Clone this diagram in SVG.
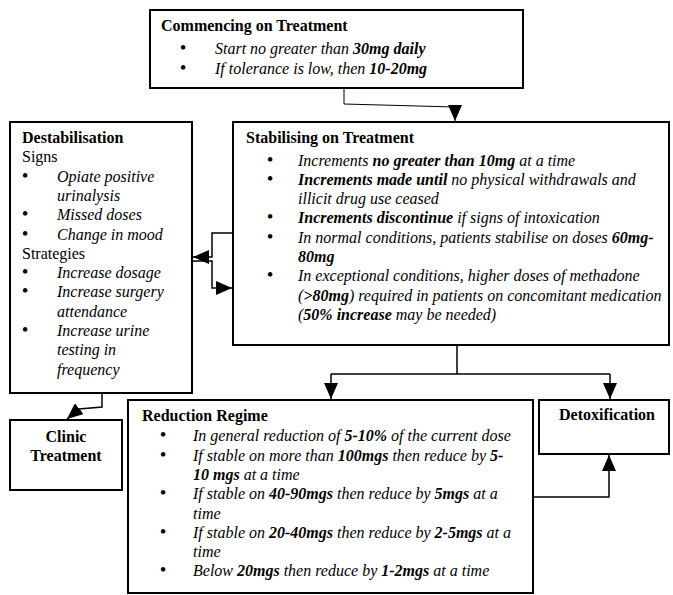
<svg xmlns="http://www.w3.org/2000/svg" width="673" height="595" viewBox="0 0 673 595">
<style>
.box{fill:#fff;stroke:#000;stroke-width:2}
text{font-family:"Liberation Serif","Times New Roman",serif;font-size:16px;fill:#000}
.b{font-weight:bold}
.i{font-style:italic}
.bi{font-weight:bold;font-style:italic}
.dot{text-anchor:middle;font-size:19px}
.c{text-anchor:middle;font-weight:bold}
.conn{fill:none;stroke:#000;stroke-width:1.5}
.thin{stroke-width:1}
</style>
<defs>
<marker id="arr" viewBox="0 0 16 14" refX="16" refY="7" markerWidth="16" markerHeight="14" markerUnits="userSpaceOnUse" orient="auto">
<path d="M0,0 L16,7 L0,14 z" fill="#000"/>
</marker>
</defs>
<rect width="673" height="595" fill="#fff"/>

<g id="commencing">
<rect class="box" x="150" y="10" width="373" height="78"/>
<text class="b" x="161" y="31">Commencing on Treatment</text>
<text class="dot" x="183" y="54">•</text>
<text x="215" y="54"><tspan class="i">Start no greater than </tspan><tspan class="bi">30mg daily</tspan></text>
<text class="dot" x="183" y="73.5">•</text>
<text x="215" y="73.5"><tspan class="i">If tolerance is low, then </tspan><tspan class="bi">10-20mg</tspan></text>
</g>

<g id="stabilising">
<rect class="box" x="233" y="122" width="436" height="223"/>
<text class="b" x="246" y="143">Stabilising on Treatment</text>
<text class="dot" x="270" y="165.5">•</text>
<text x="298" y="165.5"><tspan class="i">Increments </tspan><tspan class="bi">no greater than 10mg</tspan><tspan class="i"> at a time</tspan></text>
<text class="dot" x="270" y="184.8">•</text>
<text x="298" y="184.8"><tspan class="bi">Increments made until</tspan><tspan class="i"> no physical withdrawals and</tspan></text>
<text class="i" x="298" y="204.1">illicit drug use ceased</text>
<text class="dot" x="270" y="223.4">•</text>
<text x="298" y="223.4"><tspan class="bi">Increments discontinue</tspan><tspan class="i"> if signs of intoxication</tspan></text>
<text class="dot" x="270" y="242.7">•</text>
<text x="298" y="242.7"><tspan class="i">In normal conditions, patients stabilise on doses </tspan><tspan class="bi">60mg-</tspan></text>
<text class="bi" x="298" y="262">80mg</text>
<text class="dot" x="270" y="281.3">•</text>
<text class="i" x="298" y="281.3">In exceptional conditions, higher doses of methadone</text>
<text x="298" y="300.6"><tspan class="i">(</tspan><tspan class="bi">&gt;80mg</tspan><tspan class="i">) required in patients on concomitant medication</tspan></text>
<text x="298" y="319.9"><tspan class="i">(</tspan><tspan class="bi">50% increase</tspan><tspan class="i"> may be needed)</tspan></text>
</g>

<g id="destabilisation">
<rect class="box" x="10" y="122" width="182" height="271"/>
<text class="b" x="22" y="143">Destabilisation</text>
<text x="22" y="162.3">Signs</text>
<text class="dot" x="25" y="181.6">•</text>
<text class="i" x="57" y="181.6">Opiate positive</text>
<text class="i" x="57" y="200.9">urinalysis</text>
<text class="dot" x="25" y="220.2">•</text>
<text class="i" x="57" y="220.2">Missed doses</text>
<text class="dot" x="25" y="239.5">•</text>
<text class="i" x="57" y="239.5">Change in mood</text>
<text x="22" y="258.8">Strategies</text>
<text class="dot" x="25" y="278.1">•</text>
<text class="i" x="57" y="278.1">Increase dosage</text>
<text class="dot" x="25" y="297.4">•</text>
<text class="i" x="57" y="297.4">Increase surgery</text>
<text class="i" x="57" y="316.7">attendance</text>
<text class="dot" x="25" y="336">•</text>
<text class="i" x="57" y="336">Increase urine</text>
<text class="i" x="57" y="355.3">testing in</text>
<text class="i" x="57" y="374.6">frequency</text>
</g>

<g id="clinic">
<rect class="box" x="10" y="420" width="112" height="70"/>
<text class="c" x="66" y="441.5">Clinic</text>
<text class="c" x="66" y="460.8">Treatment</text>
</g>

<g id="reduction">
<rect class="box" x="128" y="400" width="405" height="193"/>
<text class="b" x="142" y="421">Reduction Regime</text>
<text class="dot" x="163" y="441.3">•</text>
<text x="193" y="441.3"><tspan class="i">In general reduction of </tspan><tspan class="bi">5-10%</tspan><tspan class="i"> of the current dose</tspan></text>
<text class="dot" x="163" y="460.6">•</text>
<text x="193" y="460.6"><tspan class="i">If stable on more than </tspan><tspan class="bi">100mgs</tspan><tspan class="i"> then reduce by </tspan><tspan class="bi">5-</tspan></text>
<text x="193" y="479.9"><tspan class="bi">10 mgs</tspan><tspan class="i"> at a time</tspan></text>
<text class="dot" x="163" y="499.2">•</text>
<text x="193" y="499.2"><tspan class="i">If stable on </tspan><tspan class="bi">40-90mgs</tspan><tspan class="i"> then reduce by </tspan><tspan class="bi">5mgs</tspan><tspan class="i"> at a</tspan></text>
<text class="i" x="193" y="518.5">time</text>
<text class="dot" x="163" y="537.8">•</text>
<text x="193" y="537.8"><tspan class="i">If stable on </tspan><tspan class="bi">20-40mgs</tspan><tspan class="i"> then reduce by </tspan><tspan class="bi">2-5mgs</tspan><tspan class="i"> at a</tspan></text>
<text class="i" x="193" y="557.1">time</text>
<text class="dot" x="163" y="576.4">•</text>
<text x="193" y="576.4"><tspan class="i">Below </tspan><tspan class="bi">20mgs</tspan><tspan class="i"> then reduce by </tspan><tspan class="bi">1-2mgs</tspan><tspan class="i"> at a time</tspan></text>
</g>

<g id="detoxification">
<rect class="box" x="539" y="400" width="130" height="54"/>
<text class="c" x="607" y="420">Detoxification</text>
</g>

<g id="connectors">
<path class="conn thin" d="M344,89 V104 L455,107 V121" marker-end="url(#arr)"/>
<path class="conn" d="M233,233 H212 V257 H193" marker-end="url(#arr)"/>
<path class="conn" d="M192,261 H212 V288 H232" marker-end="url(#arr)"/>
<path class="conn" d="M457,346 V374"/>
<path class="conn" d="M331,374 H610"/>
<path class="conn" d="M331,374 V399" marker-end="url(#arr)"/>
<path class="conn" d="M610,374 V399" marker-end="url(#arr)"/>
<path class="conn" d="M534,497 H609 V455" marker-end="url(#arr)"/>
<path class="conn" d="M102,394 V407 L79,409 L67,419" marker-end="url(#arr)"/>
</g>
</svg>
